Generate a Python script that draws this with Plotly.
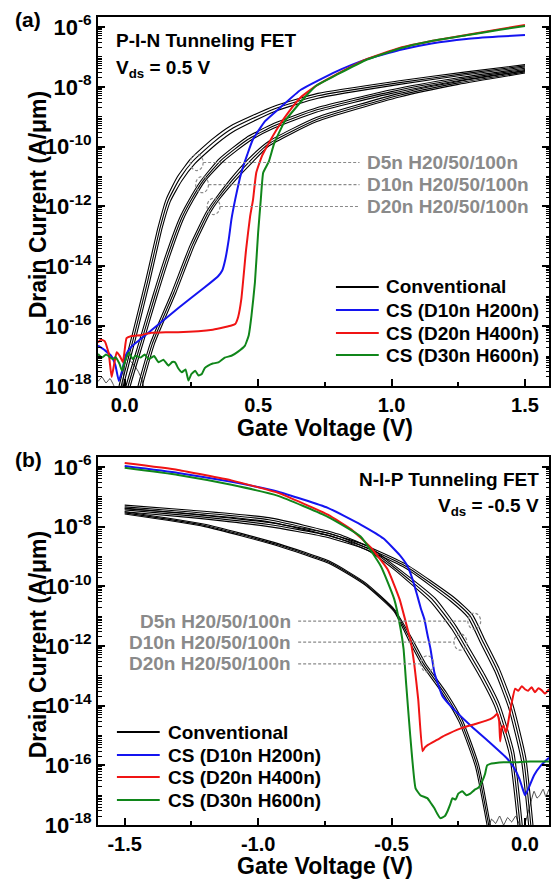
import plotly.graph_objects as go

# ===================== DATA =====================
# Gate voltage (V) and log10 of drain current (A/um)

# ---- (a) P-I-N TFET, Vds = 0.5 V ----
pin_d5_h20_v = [-0.027, -0.021, 0.028, 0.078, 0.125, 0.155, 0.198, 0.248, 0.328, 0.398, 0.56, 0.724, 1.03, 1.28, 1.5]
pin_d5_h20_i = [-18.3, -18.0, -16.3, -14.5, -12.7, -11.77, -11.0, -10.4, -9.75, -9.3, -8.65, -8.22, -7.8, -7.5, -7.26]
pin_d5_h50_v = [-0.019, -0.013, 0.036, 0.086, 0.133, 0.163, 0.206, 0.256, 0.336, 0.406, 0.56, 0.724, 1.03, 1.28, 1.5]
pin_d5_h50_i = [-18.3, -18.0, -16.3, -14.5, -12.7, -11.8, -11.07, -10.48, -9.83, -9.38, -8.74, -8.3, -7.86, -7.55, -7.3]
pin_d5_h100_v = [-0.011, -0.005, 0.044, 0.094, 0.141, 0.171, 0.214, 0.264, 0.344, 0.414, 0.56, 0.724, 1.03, 1.28, 1.5]
pin_d5_h100_i = [-18.3, -18.0, -16.3, -14.5, -12.7, -11.83, -11.14, -10.56, -9.91, -9.46, -8.83, -8.38, -7.92, -7.6, -7.34]

pin_d10_h20_v = [-0.001, 0.005, 0.055, 0.105, 0.155, 0.205, 0.24, 0.285, 0.355, 0.455, 0.56, 0.72, 1.0, 1.25, 1.5]
pin_d10_h20_i = [-18.3, -18.0, -16.5, -15.0, -13.6, -12.4, -11.8, -11.15, -10.4, -9.7, -9.22, -8.7, -8.1, -7.7, -7.38]
pin_d10_h50_v = [0.007, 0.013, 0.063, 0.113, 0.163, 0.213, 0.248, 0.293, 0.363, 0.461, 0.56, 0.72, 1.0, 1.25, 1.5]
pin_d10_h50_i = [-18.3, -18.0, -16.5, -15.0, -13.6, -12.4, -11.8, -11.15, -10.44, -9.76, -9.3, -8.77, -8.16, -7.75, -7.42]
pin_d10_h100_v = [0.015, 0.021, 0.071, 0.121, 0.171, 0.221, 0.256, 0.301, 0.371, 0.467, 0.56, 0.72, 1.0, 1.25, 1.5]
pin_d10_h100_i = [-18.3, -18.0, -16.5, -15.0, -13.6, -12.4, -11.8, -11.15, -10.48, -9.82, -9.38, -8.84, -8.22, -7.8, -7.46]

pin_d20_h20_v = [0.044, 0.05, 0.095, 0.175, 0.245, 0.305, 0.335, 0.395, 0.465, 0.54, 0.72, 1.03, 1.25, 1.5]
pin_d20_h20_i = [-18.3, -18.0, -16.6, -14.9, -13.3, -12.2, -11.8, -11.1, -10.4, -9.82, -9.02, -8.22, -7.82, -7.47]
pin_d20_h50_v = [0.052, 0.058, 0.103, 0.183, 0.253, 0.313, 0.343, 0.403, 0.473, 0.54, 0.72, 1.03, 1.25, 1.5]
pin_d20_h50_i = [-18.3, -18.0, -16.6, -14.9, -13.3, -12.2, -11.8, -11.13, -10.45, -9.9, -9.09, -8.28, -7.87, -7.5]
pin_d20_h100_v = [0.06, 0.066, 0.111, 0.191, 0.261, 0.321, 0.351, 0.411, 0.481, 0.54, 0.72, 1.03, 1.25, 1.5]
pin_d20_h100_i = [-18.3, -18.0, -16.6, -14.9, -13.3, -12.2, -11.8, -11.16, -10.5, -9.98, -9.16, -8.34, -7.92, -7.54]

pin_floor1_v = [-0.1, -0.085, -0.07, -0.055, -0.04, -0.03]
pin_floor1_i = [-17.85, -17.7, -17.9, -17.75, -18.0, -18.2]
pin_floor2_v = [-0.01, 0.0, 0.01, 0.02, 0.035, 0.05, 0.065, 0.075]
pin_floor2_i = [-18.2, -17.3, -16.95, -17.15, -17.3, -17.5, -17.8, -18.2]

pin_blue_v = [-0.1, -0.075, -0.05, -0.035, -0.022, -0.01, 0.003, 0.015, 0.027, 0.1, 0.2, 0.3, 0.35,
              0.365, 0.377, 0.39, 0.40, 0.414, 0.437, 0.46, 0.48, 0.526, 0.586, 0.66, 0.79, 0.9, 1.03,
              1.15, 1.28, 1.4, 1.5]
pin_blue_i = [-16.65, -16.8, -17.0, -17.3, -17.83, -17.5, -17.0, -16.8, -16.67, -16.14, -15.4, -14.7, -14.33,
              -14.15, -13.77, -13.1, -12.43, -11.77, -10.87, -10.25, -9.77, -9.15, -8.67, -8.1, -7.5, -7.1, -6.77,
              -6.55, -6.4, -6.32, -6.27]

pin_red_v = [-0.1, -0.09, -0.075, -0.06, -0.049, -0.04, -0.03, -0.018, -0.007, 0.0, 0.007, 0.026, 0.06, 0.1,
             0.153, 0.2, 0.276, 0.33, 0.377, 0.4, 0.414, 0.425, 0.437, 0.455, 0.47, 0.481, 0.493, 0.515,
             0.545, 0.575, 0.612, 0.66, 0.72, 0.79, 0.9, 1.03, 1.15, 1.28, 1.4, 1.5]
pin_red_i = [-16.55, -16.45, -16.5, -16.9, -17.7, -17.3, -16.87, -17.0, -17.2, -16.8, -16.4, -16.33, -16.3, -16.22,
             -16.2, -16.2, -16.17, -16.12, -16.03, -15.98, -15.93, -15.7, -15.1, -13.43, -12.33, -11.77, -10.87, -10.3,
             -9.8, -9.35, -8.87, -8.35, -7.95, -7.6, -7.1, -6.7, -6.47, -6.27, -6.08, -5.93]

pin_green_v = [-0.1, -0.085, -0.07, -0.06, -0.045, -0.035, -0.02, -0.01, 0.0, 0.015, 0.03, 0.04, 0.06, 0.075,
               0.09, 0.11, 0.127, 0.145, 0.164, 0.178, 0.189, 0.2, 0.214, 0.228, 0.239, 0.25, 0.264, 0.277,
               0.289, 0.3, 0.313, 0.33, 0.351, 0.375, 0.4, 0.425, 0.45, 0.465, 0.475, 0.488, 0.5, 0.51,
               0.519, 0.54, 0.56, 0.6, 0.675, 0.72, 0.79, 0.9, 1.03, 1.15, 1.28, 1.4, 1.5]
pin_green_i = [-16.93, -17.05, -16.95, -17.0, -17.1, -17.04, -17.25, -17.49, -17.2, -16.88, -17.1, -16.99, -17.05, -16.95,
               -17.1, -17.0, -17.21, -17.12, -17.32, -17.2, -17.21, -17.4, -17.54, -17.45, -17.82, -17.6, -17.49, -17.65,
               -17.6, -17.4, -17.32, -17.25, -17.21, -17.05, -16.99, -16.85, -16.66, -16.3, -15.66, -14.54, -12.88, -11.77,
               -10.87, -10.5, -9.9, -9.15, -8.35, -7.95, -7.62, -7.12, -6.72, -6.47, -6.28, -6.1, -5.97]

# ---- (b) N-I-P TFET, Vds = -0.5 V ----
nip_d5_h20_v = [-1.5, -1.25, -0.96, -0.7, -0.45, -0.262, -0.197, -0.15, -0.097, -0.046, 0.003, 0.033]
nip_d5_h20_i = [-7.28, -7.45, -7.7, -8.25, -9.24, -10.4, -10.95, -11.8, -12.75, -13.95, -15.75, -18.3]
nip_d5_h50_v = [-1.5, -1.25, -0.96, -0.7, -0.45, -0.27, -0.205, -0.158, -0.105, -0.054, -0.005, 0.025]
nip_d5_h50_i = [-7.34, -7.51, -7.77, -8.32, -9.31, -10.45, -11.0, -11.85, -12.8, -14.0, -15.8, -18.3]
nip_d5_h100_v = [-1.5, -1.25, -0.96, -0.7, -0.45, -0.278, -0.213, -0.166, -0.113, -0.062, -0.013, 0.017]
nip_d5_h100_i = [-7.4, -7.57, -7.84, -8.39, -9.38, -10.5, -11.05, -11.9, -12.85, -14.05, -15.85, -18.3]

nip_d10_h20_v = [-1.5, -1.25, -0.96, -0.75, -0.59, -0.49, -0.337, -0.257, -0.217, -0.152, -0.096, -0.042, -0.007]
nip_d10_h20_i = [-7.38, -7.58, -7.86, -8.2, -8.65, -9.3, -10.4, -11.35, -11.95, -12.95, -13.95, -15.55, -18.3]
nip_d10_h50_v = [-1.5, -1.25, -0.96, -0.75, -0.59, -0.49, -0.345, -0.265, -0.225, -0.16, -0.104, -0.05, -0.015]
nip_d10_h50_i = [-7.44, -7.64, -7.93, -8.27, -8.72, -9.37, -10.46, -11.4, -12.0, -13.0, -14.0, -15.6, -18.3]
nip_d10_h100_v = [-1.5, -1.25, -0.96, -0.75, -0.59, -0.49, -0.353, -0.273, -0.233, -0.168, -0.112, -0.058, -0.023]
nip_d10_h100_i = [-7.5, -7.7, -8.0, -8.34, -8.79, -9.44, -10.52, -11.45, -12.05, -13.05, -14.05, -15.65, -18.3]

nip_d20_h20_v = [-1.5, -1.2, -0.925, -0.73, -0.6, -0.49, -0.424, -0.374, -0.294, -0.234, -0.174, -0.124]
nip_d20_h20_i = [-7.5, -7.92, -8.57, -9.17, -9.87, -10.77, -11.74, -12.57, -13.57, -14.5, -15.97, -18.3]
nip_d20_h50_v = [-1.5, -1.2, -0.925, -0.73, -0.6, -0.49, -0.43, -0.38, -0.3, -0.24, -0.18, -0.13]
nip_d20_h50_i = [-7.54, -7.96, -8.61, -9.21, -9.91, -10.81, -11.77, -12.6, -13.6, -14.53, -16.0, -18.3]
nip_d20_h100_v = [-1.5, -1.2, -0.925, -0.73, -0.6, -0.49, -0.436, -0.386, -0.306, -0.246, -0.186, -0.136]
nip_d20_h100_i = [-7.58, -8.0, -8.65, -9.25, -9.95, -10.85, -11.8, -12.63, -13.63, -14.56, -16.03, -18.3]

nip_floor1_v = [-0.14, -0.125, -0.11, -0.095, -0.08, -0.065, -0.05, -0.035, -0.02, -0.005]
nip_floor1_i = [-18.2, -17.8, -17.95, -17.7, -18.0, -17.75, -17.9, -17.7, -18.0, -18.2]
nip_floor2_v = [-0.01, 0.005, 0.02, 0.034, 0.045, 0.056, 0.068, 0.078, 0.09]
nip_floor2_i = [-18.2, -17.8, -17.3, -16.87, -17.1, -17.0, -16.8, -17.05, -16.8]

nip_blue_v = [-1.5, -1.3, -1.1, -0.925, -0.739, -0.616, -0.53, -0.47, -0.44, -0.42, -0.403, -0.39, -0.377,
              -0.366, -0.354, -0.34, -0.325, -0.31, -0.28, -0.2, -0.13, -0.067, -0.04, -0.022, -0.01, 0.0,
              0.012, 0.034, 0.06, 0.09]
nip_blue_i = [-5.97, -6.2, -6.5, -6.83, -7.37, -7.93, -8.4, -8.95, -9.33, -9.8, -10.33, -10.75, -11.1,
              -11.6, -12.1, -12.87, -13.3, -13.67, -14.0, -14.7, -15.25, -15.77, -16.1, -16.43, -16.75, -17.0,
              -16.8, -16.33, -16.0, -15.75]

nip_red_v = [-1.5, -1.3, -1.1, -0.925, -0.739, -0.65, -0.578, -0.515, -0.47, -0.44, -0.43, -0.415, -0.4,
             -0.384, -0.375, -0.366, -0.33, -0.3, -0.243, -0.18, -0.13, -0.116, -0.104, -0.097, -0.093,
             -0.087, -0.08, -0.072, -0.067, -0.058, -0.049, -0.037, -0.025, -0.012, 0.0, 0.012, 0.025,
             0.037, 0.05, 0.062, 0.075, 0.09]
nip_red_i = [-5.87, -6.1, -6.45, -6.87, -7.6, -8.1, -8.7, -9.43, -10.43, -11.43, -11.77, -12.6, -13.8,
             -15.53, -15.4, -15.33, -15.15, -15.0, -14.77, -14.6, -14.45, -14.37, -14.27, -14.5, -15.2,
             -14.75, -14.67, -14.9, -14.77, -14.3, -13.87, -13.43, -13.5, -13.35, -13.45, -13.5, -13.38,
             -13.55, -13.42, -13.48, -13.6, -13.45]

nip_green_v = [-1.5, -1.3, -1.1, -0.925, -0.739, -0.616, -0.54, -0.49, -0.466, -0.455, -0.445, -0.43, -0.41,
               -0.392, -0.366, -0.35, -0.34, -0.33, -0.317, -0.3, -0.29, -0.28, -0.272, -0.26, -0.25,
               -0.235, -0.22, -0.205, -0.19, -0.175, -0.16, -0.15, -0.142, -0.13, -0.116, -0.08, -0.04,
               0.0, 0.04, 0.09]
nip_green_i = [-6.03, -6.27, -6.6, -6.97, -7.67, -8.33, -9.33, -10.43, -11.43, -12.1, -13.3, -15.0, -16.77,
               -17.0, -17.1, -17.3, -17.43, -17.6, -17.77, -17.7, -17.53, -17.3, -17.1, -17.15, -16.95,
               -16.87, -17.0, -16.95, -16.83, -16.75, -16.53, -16.3, -16.0, -15.95, -15.93, -15.9, -15.9,
               -15.88, -15.87, -15.87]

legend_names = ["Conventional", "CS (D10n H200n)", "CS (D20n H400n)", "CS (D30n H600n)"]
group_labels = ["D5n H20/50/100n", "D10n H20/50/100n", "D20n H20/50/100n"]
y_label_exp = [-18, -16, -14, -12, -10, -8, -6]
y_odd_exp = [-17, -15, -13, -11, -9, -7]
x_ticks_a = [0.0, 0.5, 1.0, 1.5]
x_ticks_b = [-1.5, -1.0, -0.5, 0.0]

# ===================== FIGURE =====================
W, H = 551, 881
ML, MR, MT, MB = 98, 0, 17, 56
PW, PH = W - ML - MR, H - MT - MB
FONT = "Liberation Sans, Arial, sans-serif"

def pxx(x):
    return (x - ML) / PW

def pyy(y):
    return (H - MB - y) / PH

dom_a = [pyy(386), 1.0]
dom_b = [0.0, pyy(457)]
yr = [-18.0, -5.667]
xr_a = [-0.1, 1.59]
xr_b = [-1.6, 0.09]

def dy(logv, dom):
    return dom[0] + (logv - yr[0]) / (yr[1] - yr[0]) * (dom[1] - dom[0])

def dx(v, xr):
    return (v - xr[0]) / (xr[1] - xr[0])

BLUE, RED, GREEN = "#1414f0", "#f01414", "#10861a"
COLORS = ["black", BLUE, RED, GREEN]

fig = go.Figure()

def add(v, logi, color, width, xa, ya, name=None, smooth=0.5):
    fig.add_trace(go.Scatter(
        x=v, y=[10 ** k for k in logi], mode="lines",
        line=dict(color=color, width=width, shape="spline", smoothing=smooth),
        xaxis=xa, yaxis=ya, name=name, showlegend=False, hoverinfo="skip"))

# panel (a)
blacks_a = [(pin_d5_h20_v, pin_d5_h20_i), (pin_d5_h50_v, pin_d5_h50_i), (pin_d5_h100_v, pin_d5_h100_i),
            (pin_d10_h20_v, pin_d10_h20_i), (pin_d10_h50_v, pin_d10_h50_i), (pin_d10_h100_v, pin_d10_h100_i),
            (pin_d20_h20_v, pin_d20_h20_i), (pin_d20_h50_v, pin_d20_h50_i), (pin_d20_h100_v, pin_d20_h100_i)]
for v, i in blacks_a:
    add(v, i, "black", 1.1, "x", "y", legend_names[0])
add(pin_floor1_v, pin_floor1_i, "black", 0.7, "x", "y", legend_names[0], 0.3)
add(pin_floor2_v, pin_floor2_i, "black", 0.7, "x", "y", legend_names[0], 0.3)
add(pin_blue_v, pin_blue_i, BLUE, 2, "x", "y", legend_names[1], 0.4)
add(pin_red_v, pin_red_i, RED, 2, "x", "y", legend_names[2], 0.4)
add(pin_green_v, pin_green_i, GREEN, 2, "x", "y", legend_names[3], 0.4)

# panel (b)
blacks_b = [(nip_d5_h20_v, nip_d5_h20_i), (nip_d5_h50_v, nip_d5_h50_i), (nip_d5_h100_v, nip_d5_h100_i),
            (nip_d10_h20_v, nip_d10_h20_i), (nip_d10_h50_v, nip_d10_h50_i), (nip_d10_h100_v, nip_d10_h100_i),
            (nip_d20_h20_v, nip_d20_h20_i), (nip_d20_h50_v, nip_d20_h50_i), (nip_d20_h100_v, nip_d20_h100_i)]
for v, i in blacks_b:
    add(v, i, "black", 1.1, "x2", "y2", legend_names[0])
add(nip_floor1_v, nip_floor1_i, "black", 0.7, "x2", "y2", legend_names[0], 0.3)
add(nip_floor2_v, nip_floor2_i, "black", 0.7, "x2", "y2", legend_names[0], 0.3)
add(nip_blue_v, nip_blue_i, BLUE, 2, "x2", "y2", legend_names[1], 0.4)
add(nip_red_v, nip_red_i, RED, 2, "x2", "y2", legend_names[2], 0.4)
add(nip_green_v, nip_green_i, GREEN, 2, "x2", "y2", legend_names[3], 0.4)

def yaxis(dom, anchor):
    return dict(type="log", range=yr, domain=dom, anchor=anchor,
                tickvals=[10 ** e for e in y_label_exp],
                ticktext=["10<sup>%d</sup>" % e for e in y_label_exp],
                ticks="inside", ticklen=7, tickwidth=1.5, tickcolor="black",
                minor=dict(ticks="inside", ticklen=3.5, tickwidth=1, tickcolor="black", dtick="D1", showgrid=False),
                showline=True, linewidth=2, linecolor="black", mirror="ticks",
                showgrid=False, zeroline=False,
                tickfont=dict(family=FONT, size=22, color="black", weight="bold"))

def yaxis_odd(dom, over, anchor):
    # unlabeled ticks at the odd decades
    return dict(type="log", range=yr, domain=dom, anchor=anchor, overlaying=over, side="left",
                tickvals=[10 ** e for e in y_odd_exp], showticklabels=False,
                ticks="inside", ticklen=7, tickwidth=1.5, tickcolor="black",
                showline=True, linewidth=2, linecolor="black", mirror="ticks",
                showgrid=False, zeroline=False)

def xaxis(xr, anchor, tv):
    return dict(range=xr, domain=[0, 1], anchor=anchor,
                tickvals=tv, ticktext=["%.1f" % t for t in tv],
                ticks="inside", ticklen=7, tickwidth=1.5, tickcolor="black",
                minor=dict(ticks="inside", ticklen=4, tickwidth=1.5, tickcolor="black", dtick=0.25, tick0=0, showgrid=False),
                showline=True, linewidth=2, linecolor="black", mirror=True,
                showgrid=False, zeroline=False,
                tickfont=dict(family=FONT, size=20, color="black", weight="bold"))

fig.update_layout(
    width=W, height=H, margin=dict(l=ML, r=MR, t=MT, b=MB),
    paper_bgcolor="white", plot_bgcolor="white",
    font=dict(family=FONT, color="black"),
    xaxis=xaxis(xr_a, "y", x_ticks_a), yaxis=yaxis(dom_a, "x"),
    xaxis2=xaxis(xr_b, "y2", x_ticks_b), yaxis2=yaxis(dom_b, "x2"),
    yaxis3=yaxis_odd(dom_a, "y", "x"), yaxis4=yaxis_odd(dom_b, "y2", "x2"),
    showlegend=False,
)

ann = []
shapes = []

def text(x, y, s, size=19, color="black", xanchor="left", angle=0):
    ann.append(dict(x=x, y=y, xref="paper", yref="paper", text=s, showarrow=False, xanchor=xanchor,
                    yanchor="middle", textangle=angle,
                    font=dict(family=FONT, size=size, color=color, weight="bold")))

# axis titles
text(pxx(38), pyy(205), "Drain Current (A/\u03bcm)", 23, xanchor="center", angle=-90)
text(pxx(38), pyy(645), "Drain Current (A/\u03bcm)", 23, xanchor="center", angle=-90)
text(pxx(326), pyy(428), "Gate Voltage (V)", 23, xanchor="center")
text(pxx(326), pyy(866), "Gate Voltage (V)", 23, xanchor="center")

# panel labels and headings
text(pxx(13), pyy(19), "(a)", 21)
text(pxx(13), pyy(459), "(b)", 21)
text(pxx(114), pyy(40), "P-I-N Tunneling FET", 19)
text(pxx(114), pyy(69), "V<sub>ds</sub> = 0.5 V", 19)
text(pxx(543), pyy(479), "N-I-P Tunneling FET", 19, xanchor="right")
text(pxx(543), pyy(507), "V<sub>ds</sub> = -0.5 V", 19, xanchor="right")

# legends (line sample + label)
def legend_block(x0, x1, xt, ys):
    for name, col, yy in zip(legend_names, COLORS, ys):
        shapes.append(dict(type="line", xref="paper", yref="paper", x0=pxx(x0), x1=pxx(x1),
                           y0=pyy(yy), y1=pyy(yy), line=dict(color=col, width=2)))
        text(pxx(xt), pyy(yy), name, 19)

legend_block(337, 380, 385, [287, 310, 333, 355])
legend_block(117, 160, 166, [732, 755, 777, 800])

GRAY = "#8a8a8a"
DASH = "3px,2px"
# panel (a) group markers: (circle centre V, log10 I)
circ_a = [(0.27, -10.53), (0.29, -11.27), (0.333, -12.0)]
lab_a_v = 0.9
for (cv, cl), lab in zip(circ_a, group_labels):
    shapes.append(dict(type="circle", xref="paper", yref="paper",
                       x0=dx(cv - 0.024, xr_a), x1=dx(cv + 0.024, xr_a),
                       y0=dy(cl - 0.27, dom_a), y1=dy(cl + 0.27, dom_a),
                       line=dict(color=GRAY, width=1.2, dash=DASH)))
    shapes.append(dict(type="line", xref="paper", yref="paper",
                       x0=dx(cv + 0.024, xr_a), x1=dx(lab_a_v - 0.02, xr_a), y0=dy(cl, dom_a), y1=dy(cl, dom_a),
                       line=dict(color=GRAY, width=1.2, dash=DASH)))
    text(dx(lab_a_v, xr_a), dy(cl, dom_a), lab, 19, GRAY)

# panel (b)
circ_b = [(-0.19, -11.17), (-0.242, -11.87), (-0.366, -12.6)]
lab_b_v = -0.87
for (cv, cl), lab in zip(circ_b, group_labels):
    shapes.append(dict(type="circle", xref="paper", yref="paper",
                       x0=dx(cv - 0.024, xr_b), x1=dx(cv + 0.024, xr_b),
                       y0=dy(cl - 0.27, dom_b), y1=dy(cl + 0.27, dom_b),
                       line=dict(color=GRAY, width=1.2, dash=DASH)))
    shapes.append(dict(type="line", xref="paper", yref="paper",
                       x0=dx(lab_b_v + 0.02, xr_b), x1=dx(cv - 0.024, xr_b), y0=dy(cl, dom_b), y1=dy(cl, dom_b),
                       line=dict(color=GRAY, width=1.2, dash=DASH)))
    text(dx(lab_b_v, xr_b), dy(cl, dom_b), lab, 19, GRAY, xanchor="right")

fig.update_layout(annotations=ann, shapes=shapes)
fig.write_html("out.html", config={"displayModeBar": False},
               post_script="document.body.style.margin='0px';document.body.style.overflow='hidden';")
